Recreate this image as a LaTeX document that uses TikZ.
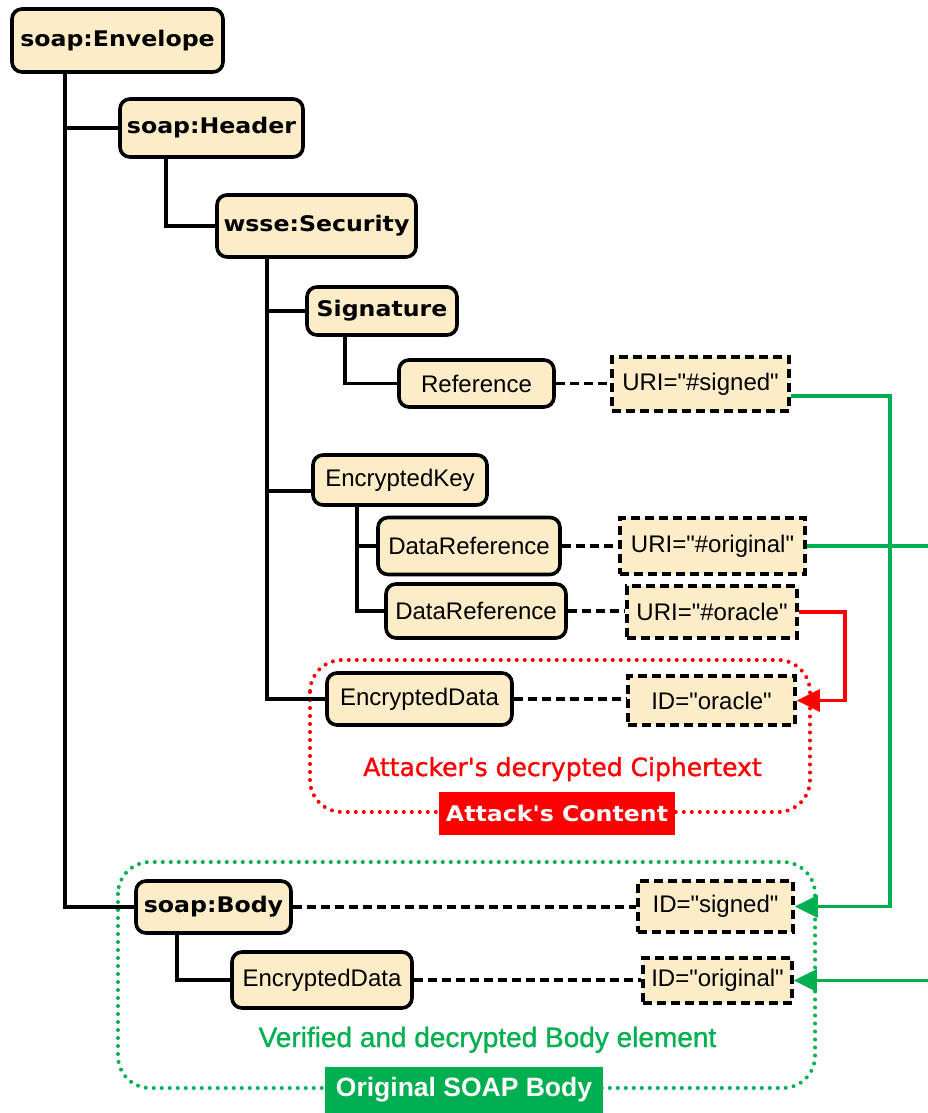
\documentclass[tikz,border=0pt]{standalone}
\usepackage{fontspec}
\usetikzlibrary{arrows.meta,calc}
\newfontfamily\tagfont{DejaVu Sans}[FakeStretch=1.1,Ligatures=TeXOff]
\newfontfamily\plainfont{Liberation Sans}[Ligatures=TeXOff]
\newfontfamily\notefont{DejaVu Sans}[FakeBold=1.2,Ligatures=TeXOff]
\newfontfamily\greenfont{Liberation Sans}[FakeBold=1,Ligatures=TeXOff]
\definecolor{tagfill}{RGB}{252,236,199}
\definecolor{okgreen}{RGB}{0,176,80}
\definecolor{badred}{RGB}{255,0,0}

\begin{document}
\begin{tikzpicture}[x=1pt,y=-1pt,
  base/.style={fill=tagfill, draw=black, line width=3.6pt, inner sep=0pt, align=center},
  tag/.style={base, rounded corners=10pt, font=\tagfont\bfseries\fontsize{21.5}{26}\selectfont},
  plain/.style={base, rounded corners=10pt, font=\plainfont\fontsize{24}{28}\selectfont},
  attr/.style={base, dash pattern=on 9pt off 5pt, font=\plainfont\fontsize{24}{28}\selectfont},
  tree/.style={line width=3.8pt},
  link/.style={line width=3.6pt, dash pattern=on 9pt off 5pt},
  ref/.style={line width=3.4pt, -{Triangle[length=23pt,width=22pt]}},
  zone/.style={line width=4pt, dash pattern=on 0pt off 8pt, line cap=round, rounded corners=32pt},
  caption/.style={inner sep=0pt, text=white},
]
\useasboundingbox (0,0) rectangle (928,1113);

% grouping frames
\draw[zone, badred] (310,660) rectangle (810,812);
\draw[zone, okgreen] (118,862) rectangle (815,1088);

% element tree
\node[tag, minimum width=211pt, minimum height=63pt] (env) at (117.5,40.5) {soap:Envelope};
\node[tag, minimum width=183pt, minimum height=58pt] (hdr) at (211.5,128) {soap:Header};
\node[tag, minimum width=199pt, minimum height=62pt] (sec) at (316.5,226) {wsse:Security};
\node[tag, minimum width=150pt, minimum height=48pt] (sig) at (382,311) {Signature};
\node[plain, minimum width=155pt, minimum height=47pt] (ref) at (476.5,383.5) {Reference};
\node[plain, minimum width=174pt, minimum height=50pt] (ek) at (400,480) {EncryptedKey};
\node[plain, minimum width=182pt, minimum height=57pt] (dr1) at (469,546) {DataReference};
\node[plain, minimum width=180pt, minimum height=54pt] (dr2) at (476,611) {DataReference};
\node[plain, minimum width=185pt, minimum height=52pt] (edA) at (419.5,699) {EncryptedData};
\node[tag, minimum width=155pt, minimum height=52pt] (body) at (213.5,907) {soap:Body};
\node[plain, minimum width=180pt, minimum height=56pt] (edB) at (322,980) {EncryptedData};

% attributes
\node[attr, minimum width=177pt, minimum height=54pt] (uriS) at (700.5,384) {URI="\#signed"};
\node[attr, minimum width=185pt, minimum height=56pt] (uriO) at (712.5,546) {URI="\#original"};
\node[attr, minimum width=170pt, minimum height=52pt] (uriX) at (712,612) {URI="\#oracle"};
\node[attr, minimum width=167pt, minimum height=49pt] (idX) at (711.5,700.5) {ID="oracle"};
\node[attr, minimum width=155pt, minimum height=51pt] (idS) at (715.5,906.5) {ID="signed"};
\node[attr, minimum width=149pt, minimum height=45pt] (idO) at (717.5,980.5) {ID="original"};

% trunks of the tree
\coordinate (tEnv) at (65,0);
\coordinate (tHdr) at (166,0);
\coordinate (tSec) at (267,0);
\coordinate (tSig) at (345,0);
\coordinate (tEk) at (357,0);
\coordinate (tBody) at (177,0);

\draw[tree] (env.south -| tEnv) |- (hdr.west);
\draw[tree] (env.south -| tEnv) |- (body.west);
\draw[tree] (hdr.south -| tHdr) |- (sec.west);
\draw[tree] (sec.south -| tSec) |- (sig.west);
\draw[tree] (sec.south -| tSec) |- ([yshift=-11pt]ek.west);
\draw[tree] (sec.south -| tSec) |- (edA.west);
\draw[tree] (sig.south -| tSig) |- (ref.west);
\draw[tree] (ek.south -| tEk) |- (dr1.west);
\draw[tree] (ek.south -| tEk) |- (dr2.west);
\draw[tree] (body.south -| tBody) |- (edB.west);

% element to attribute
\draw[link] (ref.east) -- (ref.east -| uriS.west);
\draw[link] (dr1.east) -- (dr1.east -| uriO.west);
\draw[link] (dr2.east) -- (dr2.east -| uriX.west);
\draw[link] (edA.east) -- (edA.east -| idX.west);
\draw[link] (body.east) -- (body.east -| idS.west);
\draw[link] (edB.east) -- (edB.east -| idO.west);

% references
\coordinate (gsA) at ($(uriS.east)+(0,12)$);
\coordinate (gsB) at (890,396);
\draw[ref, okgreen] (gsA) -- (gsB) |- (idS.east);
\coordinate (goB) at (960,546);
\draw[ref, okgreen] (uriO.east) -- (goB) |- (idO.east);
\coordinate (rxB) at (845,612);
\draw[ref, badred] (uriX.east) -- (rxB) |- (idX.east);

% captions
\node[anchor=base, text=badred, inner sep=0pt, font=\notefont\fontsize{25}{30}\selectfont] (atxt) at (562.5,776) {Attacker's decrypted Ciphertext};
\node[caption, fill=badred, minimum width=236pt, minimum height=43pt, font=\tagfont\bfseries\fontsize{21.5}{26}\selectfont] (atk) at (557,813.5) {Attack's Content};
\node[anchor=base, text=okgreen, inner sep=0pt, font=\greenfont\fontsize{28}{32}\selectfont] (gtxt) at (487.5,1047) {Verified and decrypted Body element};
\node[caption, fill=okgreen, minimum width=278pt, minimum height=46pt, font=\plainfont\bfseries\fontsize{26.5}{30}\selectfont] (orig) at (464,1090) {Original SOAP Body};
\end{tikzpicture}
\end{document}
